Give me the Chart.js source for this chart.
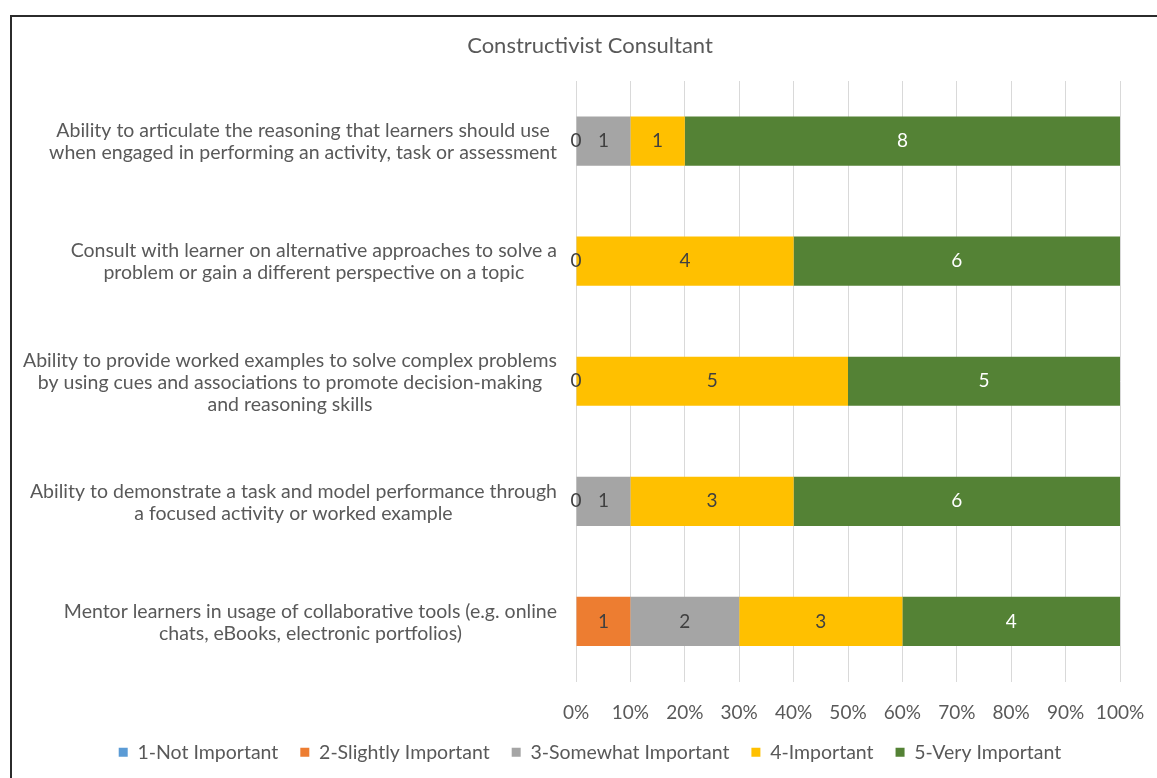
<!DOCTYPE html>
<html>
<head>
<meta charset="utf-8">
<script src="https://cdn.jsdelivr.net/npm/chart.js@4"></script>
<style>
  html, body { margin: 0; padding: 0; background: #fff; overflow: hidden; }
  #wrap { position: relative; width: 1157px; height: 778px; }
  #frame { position: absolute; left: 10px; top: 15px; width: 1160px; height: 780px; border: 2px solid #2b2b2b; box-sizing: border-box; }
  #myChart { position: absolute; left: 0; top: 0; }
</style>
</head>
<body>
<div id="wrap">
  <div id="frame"></div>
  <canvas id="myChart" width="1157" height="778"></canvas>
</div>
<script>
const categories = [
  ['Ability to articulate the reasoning that learners should use', 'when engaged in performing an activity, task or assessment'],
  ['Consult with learner on alternative approaches to solve a', 'problem or gain a different perspective on a topic'],
  ['Ability to provide worked examples to solve complex problems', 'by using cues and associations to promote decision-making', 'and reasoning skills'],
  ['Ability to demonstrate a task and model performance through', 'a focused activity or worked example'],
  ['Mentor learners in usage of collaborative tools (e.g. online', 'chats, eBooks, electronic portfolios)']
];
const seriesNames = ['1-Not Important', '2-Slightly Important', '3-Somewhat Important', '4-Important', '5-Very Important'];
const notImportant = [null, null, null, null, null];
const slightlyImportant = [0, 0, 0, 0, 1];
const somewhatImportant = [1, null, null, 1, 2];
const important = [1, 4, 5, 3, 3];
const veryImportant = [8, 6, 5, 6, 4];
const colors = ['#5B9BD5', '#ED7D31', '#A5A5A5', '#FFC000', '#548235'];
const labelColors = ['#404040', '#404040', '#404040', '#404040', '#ffffff'];

const counts = [notImportant, slightlyImportant, somewhatImportant, important, veryImportant];
const totals = categories.map((c, i) => counts.reduce((s, arr) => s + (arr[i] || 0), 0));

const FONT = 'Lato, "Open Sans", sans-serif';
const TEXT = '#595959';

// draws the count on every segment (100% stacked, so raw counts are kept apart)
const valueLabels = {
  id: 'valueLabels',
  afterDatasetsDraw(chart) {
    const ctx = chart.ctx;
    ctx.save();
    ctx.font = '19px ' + FONT;
    ctx.textAlign = 'center';
    ctx.textBaseline = 'middle';
    chart.data.datasets.forEach((ds, d) => {
      const meta = chart.getDatasetMeta(d);
      meta.data.forEach((bar, i) => {
        const v = counts[d][i];
        if (v === null) return;
        const p = bar.getCenterPoint();
        ctx.fillStyle = labelColors[d];
        ctx.fillText(String(v), p.x, p.y);
      });
    });
    ctx.restore();
  }
};

// category labels: block right aligned, lines centred inside the block
const categoryLabels = {
  id: 'categoryLabels',
  afterDraw(chart) {
    const ctx = chart.ctx;
    const y = chart.scales.y;
    const right = chart.chartArea.left - 19;
    const lh = 22;
    ctx.save();
    ctx.font = '19.5px ' + FONT;
    ctx.fillStyle = TEXT;
    ctx.textAlign = 'center';
    ctx.textBaseline = 'middle';
    categories.forEach((lines, i) => {
      const cy = y.getPixelForValue(i) + 1;
      const w = Math.max(...lines.map(l => ctx.measureText(l).width));
      const cx = right - w / 2;
      lines.forEach((l, k) => {
        ctx.fillText(l, cx, cy + (k - (lines.length - 1) / 2) * lh);
      });
    });
    ctx.restore();
  }
};

new Chart('myChart', {
  type: 'bar',
  data: {
    labels: categories,
    datasets: seriesNames.map((name, d) => ({
      label: name,
      data: counts[d].map((v, i) => v === null ? null : v / totals[i] * 100),
      backgroundColor: colors[d],
      barPercentage: 0.41,
      categoryPercentage: 1
    }))
  },
  options: {
    indexAxis: 'y',
    responsive: false,
    animation: false,
    layout: { padding: { left: 60, right: 37, top: 0, bottom: 6 } },
    scales: {
      x: {
        stacked: true,
        min: 0,
        max: 100,
        ticks: { stepSize: 10, callback: v => v + '%', color: TEXT, font: { family: FONT, size: 19, lineHeight: 0.85 }, padding: 23 },
        grid: { color: '#d9d9d9', drawTicks: false },
        border: { display: false },
        afterFit(scale) {
          scale.height = 39;
          scale.paddingLeft = 0;
          scale.paddingRight = 0;
        }
      },
      y: {
        stacked: true,
        ticks: { display: false },
        grid: { display: false },
        border: { display: false },
        afterFit(scale) { scale.width = 516; }
      }
    },
    plugins: {
      title: {
        display: true,
        text: 'Constructivist Consultant',
        color: TEXT,
        font: { family: FONT, size: 22, weight: 'normal' },
        padding: { top: 33, bottom: 21.6 }
      },
      legend: {
        position: 'bottom',
        labels: { color: TEXT, font: { family: FONT, size: 19.5 }, boxWidth: 9, boxHeight: 9, padding: 22 }
      },
      tooltip: { enabled: false }
    }
  },
  plugins: [valueLabels, categoryLabels]
});
</script>
</body>
</html>
